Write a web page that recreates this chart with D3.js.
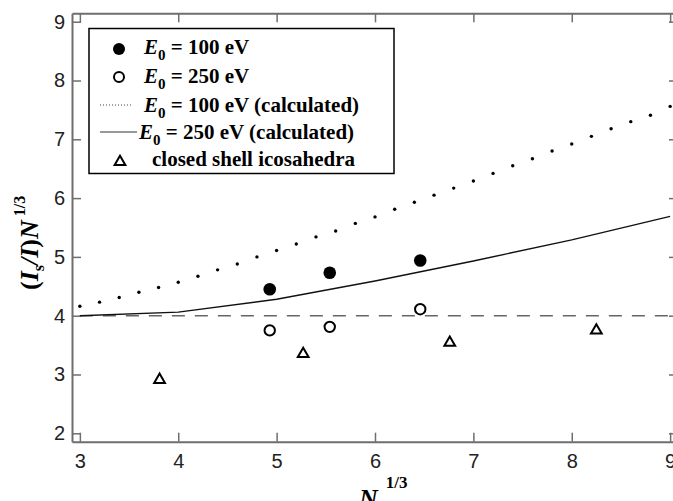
<!DOCTYPE html>
<html>
<head>
<meta charset="utf-8">
<script src="https://cdn.jsdelivr.net/npm/d3@7"></script>
<style>
  body { margin: 0; background: #fff; }
  svg { display: block; }
  .tick text { font-family: "Liberation Sans", Arial, sans-serif; font-size: 20px; fill: #222; }
  .serif { font-family: "Liberation Serif", "Times New Roman", serif; font-weight: bold; fill: #000; }
</style>
</head>
<body>
<div id="chart"></div>
<script>
// tick values
const xTicks = [3, 4, 5, 6, 7, 8, 9];
const yTicks = [2, 3, 4, 5, 6, 7, 8, 9];

// measured points, E0 = 100 eV (filled) and 250 eV (open)
const measX = [4.93, 5.54, 6.46];
const meas100 = [4.45, 4.73, 4.94];
const meas250 = [3.75, 3.81, 4.11];

// closed shell icosahedra
const icoX = [3.81, 5.27, 6.76, 8.25];
const icoY = [2.91, 3.35, 3.54, 3.75];

// calculated, E0 = 100 eV (dotted)
const calc100X = [3.0, 3.2, 3.4, 3.6, 3.8, 4.0, 4.2, 4.4, 4.6, 4.8, 5.0, 5.2, 5.4, 5.6, 5.8,
                  6.0, 6.2, 6.4, 6.6, 6.8, 7.0, 7.2, 7.4, 7.6, 7.8, 8.0, 8.2, 8.4, 8.6, 8.8, 9.0];
const calc100Y = [4.16, 4.23, 4.31, 4.40, 4.48, 4.57, 4.67, 4.78, 4.88, 5.00, 5.11, 5.22, 5.34, 5.44, 5.57,
                  5.68, 5.81, 5.93, 6.05, 6.17, 6.29, 6.42, 6.55, 6.67, 6.80, 6.92, 7.05, 7.18, 7.30, 7.41, 7.56];

// calculated, E0 = 250 eV (solid)
const calc250X = [3, 4, 5, 6, 7, 8, 9];
const calc250Y = [4.00, 4.06, 4.28, 4.59, 4.93, 5.29, 5.69];

// reference level (dashed)
const refLevel = 4;

const width = 673, height = 501;

const svg = d3.select("#chart").append("svg")
    .attr("width", width)
    .attr("height", height);

// scales, padded a little beyond 3..9 and 2..9 like the original frame
const x = d3.scaleLinear().domain([2.92, 9.08]).range([72, 678]);
const y = d3.scaleLinear().domain([1.857, 9.143]).range([441.7, 13.3]);

const axisColor = "#6e6e6e";

function styleAxis(g) {
    g.select(".domain").attr("stroke", axisColor).attr("stroke-width", 2);
    g.selectAll(".tick line").attr("stroke", axisColor).attr("stroke-width", 1.5);
}

// bottom axis
svg.append("g")
    .attr("transform", `translate(0, ${y.range()[0]})`)
    .call(d3.axisBottom(x).tickValues(xTicks).tickFormat(d3.format("d"))
        .tickSizeInner(-9).tickSizeOuter(0).tickPadding(12))
    .call(styleAxis);

// left axis
svg.append("g")
    .attr("transform", `translate(${x.range()[0]}, 0)`)
    .call(d3.axisLeft(y).tickValues(yTicks).tickFormat(d3.format("d"))
        .tickSizeInner(-9).tickSizeOuter(0).tickPadding(7))
    .call(styleAxis);

// top and right mirror axes (no labels)
svg.append("g")
    .attr("transform", `translate(0, ${y.range()[1]})`)
    .call(d3.axisTop(x).tickValues(xTicks).tickSizeInner(-9).tickSizeOuter(0).tickFormat(""))
    .call(styleAxis);

svg.append("g")
    .attr("transform", `translate(${x.range()[1]}, 0)`)
    .call(d3.axisRight(y).tickValues(yTicks).tickSizeInner(-9).tickSizeOuter(0).tickFormat(""))
    .call(styleAxis);

// dashed reference line
svg.append("line")
    .attr("x1", x(3)).attr("x2", x(9))
    .attr("y1", y(refLevel)).attr("y2", y(refLevel))
    .attr("stroke", "#666")
    .attr("stroke-width", 1.6)
    .attr("stroke-dasharray", "13,10");

// solid calculated line
const line = d3.line().x(d => x(d[0])).y(d => y(d[1]));
svg.append("path")
    .datum(calc250X.map((v, i) => [v, calc250Y[i]]))
    .attr("d", line)
    .attr("fill", "none")
    .attr("stroke", "#111")
    .attr("stroke-width", 1.4);

// dotted calculated line
svg.append("g").selectAll("circle")
    .data(calc100X.map((v, i) => [v, calc100Y[i]]))
    .join("circle")
    .attr("cx", d => x(d[0]))
    .attr("cy", d => y(d[1]))
    .attr("r", 1.7)
    .attr("fill", "#000");

// filled circles
svg.append("g").selectAll("circle")
    .data(measX.map((v, i) => [v, meas100[i]]))
    .join("circle")
    .attr("cx", d => x(d[0]))
    .attr("cy", d => y(d[1]))
    .attr("r", 6.3)
    .attr("fill", "#000");

// open circles
svg.append("g").selectAll("circle")
    .data(measX.map((v, i) => [v, meas250[i]]))
    .join("circle")
    .attr("cx", d => x(d[0]))
    .attr("cy", d => y(d[1]))
    .attr("r", 5.2)
    .attr("fill", "#fff")
    .attr("stroke", "#000")
    .attr("stroke-width", 2);

// triangles
const tri = d3.symbol().type(d3.symbolTriangle).size(50);
svg.append("g").selectAll("path")
    .data(icoX.map((v, i) => [v, icoY[i]]))
    .join("path")
    .attr("d", tri)
    .attr("transform", d => `translate(${x(d[0])}, ${y(d[1])})`)
    .attr("fill", "none")
    .attr("stroke", "#000")
    .attr("stroke-width", 2);

// legend
const legend = svg.append("g");
legend.append("rect")
    .attr("x", 89).attr("y", 28.5)
    .attr("width", 305).attr("height", 145)
    .attr("fill", "#fff")
    .attr("stroke", "#000")
    .attr("stroke-width", 1.5);

function eLabel(tx, ty, rest) {
    const t = legend.append("text").attr("class", "serif")
        .attr("x", tx).attr("y", ty).style("font-size", "21px");
    t.append("tspan").style("font-style", "italic").text("E");
    t.append("tspan").attr("dy", 6).style("font-size", "15px").text("0");
    t.append("tspan").attr("dy", -6).text(" = " + rest);
}

legend.append("circle").attr("cx", 119).attr("cy", 49).attr("r", 6).attr("fill", "#000");
eLabel(144, 53.5, "100 eV");

legend.append("circle").attr("cx", 119).attr("cy", 77).attr("r", 5).attr("fill", "#fff")
    .attr("stroke", "#000").attr("stroke-width", 2);
eLabel(144, 82.5, "250 eV");

legend.append("line").attr("x1", 100).attr("x2", 131).attr("y1", 105).attr("y2", 105)
    .attr("stroke", "#444").attr("stroke-width", 1).attr("stroke-dasharray", "1,2");
eLabel(144, 112, "100 eV (calculated)");

legend.append("line").attr("x1", 100).attr("x2", 137).attr("y1", 132).attr("y2", 132)
    .attr("stroke", "#333").attr("stroke-width", 1.2);
eLabel(139, 138.5, "250 eV (calculated)");

legend.append("path").attr("d", tri).attr("transform", "translate(120, 162)")
    .attr("fill", "none").attr("stroke", "#000").attr("stroke-width", 2);
legend.append("text").attr("class", "serif")
    .attr("x", 152).attr("y", 166).style("font-size", "21px")
    .text("closed shell icosahedra");

// y axis title
const yt = svg.append("text").attr("class", "serif")
    .attr("transform", "translate(38, 290) rotate(-90)")
    .style("font-size", "26px");
yt.append("tspan").text("(");
yt.append("tspan").style("font-style", "italic").text("I");
yt.append("tspan").attr("dy", 6).style("font-size", "16px").text("s");
yt.append("tspan").attr("dy", -6).style("font-style", "italic").text("/I");
yt.append("tspan").text(")");
yt.append("tspan").style("font-style", "italic").text("N");
yt.append("tspan").attr("dx", 4).attr("dy", -13).style("font-size", "16px").text("1/3");

// x axis title
const xt = svg.append("text").attr("class", "serif")
    .attr("x", 359).attr("y", 507)
    .style("font-size", "26px");
xt.append("tspan").style("font-style", "italic").text("N");
xt.append("tspan").attr("dx", 8).attr("dy", -19).style("font-size", "17px").text("1/3");
</script>
</body>
</html>
